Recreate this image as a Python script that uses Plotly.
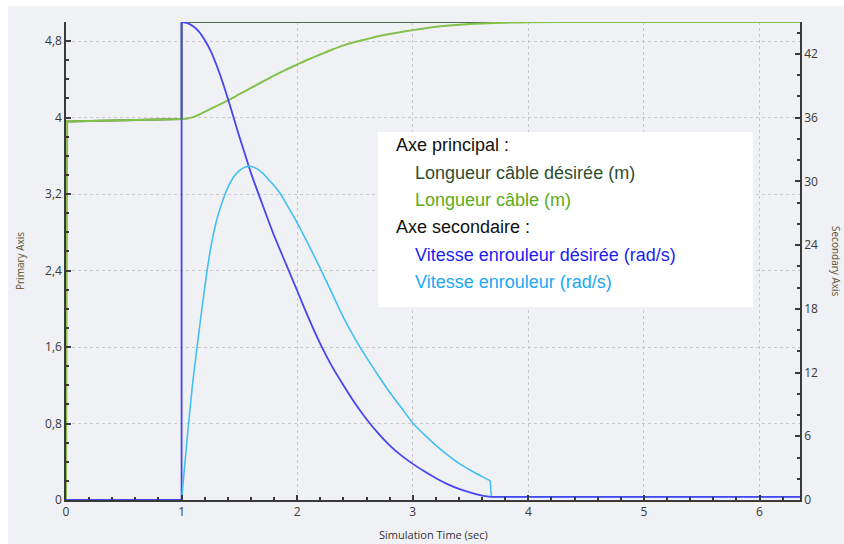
import plotly.graph_objects as go

# ---------------- data ----------------
# Primary axis: cable length (m)
t_len_des = [0.0, 0.01, 1.0, 1.0, 6.35]
len_des = [3.96, 3.96, 3.985, 5.0, 5.0]

t_len = [0.0, 0.01, 1.0, 1.05, 1.1, 1.15, 1.2, 1.3, 1.4, 1.5, 1.6, 1.7, 1.8, 1.9,
         2.0, 2.1, 2.2, 2.3, 2.4, 2.5, 2.6, 2.7, 2.8, 2.9, 3.0, 3.2, 3.4, 3.6,
         3.8, 4.0, 4.5, 6.35]
len_act = [0.0, 3.96, 3.985, 3.99, 4.005, 4.03, 4.06, 4.12, 4.18, 4.245, 4.31, 4.375,
           4.44, 4.50, 4.555, 4.61, 4.66, 4.71, 4.755, 4.79, 4.82, 4.85, 4.875, 4.895,
           4.915, 4.95, 4.972, 4.985, 4.993, 4.997, 5.0, 5.0]

# Secondary axis: reel speed (rad/s)
t_spd_des = [0.0, 1.0, 1.0, 1.05, 1.1, 1.15, 1.2, 1.25, 1.3, 1.35, 1.4, 1.45, 1.5,
             1.55, 1.6, 1.7, 1.8, 1.9, 2.0, 2.1, 2.2, 2.3, 2.4, 2.5, 2.6, 2.7, 2.8,
             2.9, 3.0, 3.1, 3.2, 3.3, 3.4, 3.5, 3.6, 3.67, 6.35]
spd_des = [0.0, 0.0, 45.0, 44.9, 44.6, 44.1, 43.3, 42.3, 41.0, 39.5, 37.8, 36.0, 34.2,
           32.5, 30.8, 27.8, 24.9, 22.3, 19.7, 17.1, 14.7, 12.6, 10.8, 9.1, 7.6, 6.3,
           5.15, 4.2, 3.4, 2.7, 2.05, 1.5, 1.05, 0.7, 0.42, 0.3, 0.3]

t_spd = [1.0, 1.025, 1.05, 1.075, 1.1, 1.15, 1.2, 1.25, 1.3, 1.35, 1.4, 1.45, 1.5,
         1.55, 1.6, 1.65, 1.7, 1.75, 1.8, 1.85, 1.9, 2.0, 2.1, 2.2, 2.3, 2.4, 2.5,
         2.6, 2.7, 2.8, 2.9, 3.0, 3.1, 3.2, 3.3, 3.4, 3.5, 3.6, 3.67, 3.68, 6.35]
spd_act = [0.0, 3.0, 6.0, 8.8, 11.4, 15.8, 20.0, 23.6, 26.2, 28.0, 29.4, 30.4, 31.0,
           31.35, 31.4, 31.2, 30.8, 30.2, 29.6, 28.9, 28.0, 26.1, 24.0, 21.8, 19.5,
           17.2, 15.2, 13.4, 11.75, 10.15, 8.7, 7.25, 6.15, 5.15, 4.25, 3.45, 2.8,
           2.2, 1.8, 0.3, 0.3]

x_tick_vals = [0, 1, 2, 3, 4, 5, 6]
y1_tick_vals = [0, 0.8, 1.6, 2.4, 3.2, 4, 4.8]
y2_tick_vals = [0, 6, 12, 18, 24, 30, 36, 42]

legend_headers = ["Axe principal :", "Axe secondaire :"]
legend_items = ["Longueur câble désirée (m)", "Longueur câble (m)",
                "Vitesse enrouleur désirée (rad/s)", "Vitesse enrouleur (rad/s)"]

# ---------------- styling ----------------
C_LEN_DES = "#4f6e4b"
C_LEN = "#82c24a"
C_SPD_DES = "#4646f0"
C_SPD = "#42c0f2"
TXT_LEN_DES = "#2f4d2f"
TXT_LEN = "#5aac20"
TXT_SPD_DES = "#1c1cf5"
TXT_SPD = "#20a8f5"
BG = "#f0f1f4"
AX = "#3a3a3a"

W, H = 844, 544
L, R, T, B = 66, 800, 22, 500


def px(x):
    return (x - L) / (R - L)


def py(y):
    return (B - y) / (B - T)


def seg(xs, ys, i0, i1, color, width, yaxis, shape):
    return go.Scatter(x=xs[i0:i1], y=ys[i0:i1], mode="lines", yaxis=yaxis,
                      line=dict(color=color, width=width, shape=shape,
                                smoothing=0.6 if shape == "spline" else None))


fig = go.Figure()
# desired length (step)
fig.add_trace(seg(t_len_des, len_des, 0, None, C_LEN_DES, 2, "y", "linear"))
# actual length
fig.add_trace(seg(t_len, len_act, 0, 3, C_LEN, 2, "y", "linear"))
fig.add_trace(seg(t_len, len_act, 2, None, C_LEN, 2, "y", "spline"))
# desired speed
fig.add_trace(seg(t_spd_des, spd_des, 0, 3, C_SPD_DES, 1.8, "y2", "linear"))
fig.add_trace(seg(t_spd_des, spd_des, 2, 36, C_SPD_DES, 1.8, "y2", "spline"))
# actual speed
fig.add_trace(seg(t_spd, spd_act, 0, 39, C_SPD, 1.6, "y2", "spline"))
fig.add_trace(seg(t_spd, spd_act, 38, None, C_SPD, 1.6, "y2", "linear"))
# desired speed flat tail drawn on top (as in reference)
fig.add_trace(seg(t_spd_des, spd_des, 35, None, C_SPD_DES, 1.8, "y2", "linear"))

tickfont = dict(family="Open Sans", size=12, color="#383838")

fig.update_layout(
    width=W, height=H,
    margin=dict(l=L, r=W - R, t=T, b=H - B, pad=0),
    paper_bgcolor="white",
    plot_bgcolor=BG,
    showlegend=False,
    separators=", ",
    xaxis=dict(range=[0, 6.35], tickvals=x_tick_vals, ticks="inside", ticklen=5,
               tickcolor=AX, tickwidth=1.5, showline=True, linecolor=AX, linewidth=1.5,
               showgrid=True, gridcolor="#c9c9cc", griddash="dot", gridwidth=1,
               zeroline=False, tickfont=tickfont,
               minor=dict(dtick=0.2, ticks="inside", ticklen=3, tickcolor=AX, showgrid=False)),
    yaxis=dict(range=[0, 5], tickvals=y1_tick_vals, ticks="inside", ticklen=5,
               tickcolor=AX, tickwidth=1.5, showline=True, linecolor=AX, linewidth=1.5,
               showgrid=True, gridcolor="#c9c9cc", griddash="dot", gridwidth=1,
               zeroline=False, tickfont=tickfont, tickformat=".1~f",
               minor=dict(dtick=0.2, ticks="inside", ticklen=3, tickcolor=AX, showgrid=False)),
    yaxis2=dict(range=[0, 45], tickvals=y2_tick_vals, overlaying="y", side="right",
                ticks="inside", ticklen=5, tickcolor=AX, tickwidth=1.5,
                showline=True, linecolor=AX, linewidth=1.5, showgrid=False,
                zeroline=False, tickfont=tickfont,
                minor=dict(dtick=2, ticks="inside", ticklen=3, tickcolor=AX)),
)

# grey panel (white margin at top-left like the reference)
fig.add_shape(type="rect", xref="paper", yref="paper", layer="below",
              x0=px(8), x1=px(W + 5), y0=py(H + 5), y1=py(6),
              fillcolor=BG, line=dict(width=0))

# legend box
fig.add_shape(type="rect", xref="paper", yref="paper",
              x0=px(378), x1=px(753), y0=py(307), y1=py(132),
              fillcolor="white", line=dict(width=0))

lfont = "Liberation Sans, Arial, sans-serif"
entries = [
    (legend_headers[0], 394, 145, "#111111"),
    (legend_items[0], 413, 173, TXT_LEN_DES),
    (legend_items[1], 413, 200, TXT_LEN),
    (legend_headers[1], 394, 227, "#111111"),
    (legend_items[2], 413, 255, TXT_SPD_DES),
    (legend_items[3], 413, 282, TXT_SPD),
]
for txt, x, y, col in entries:
    fig.add_annotation(text=txt, xref="paper", yref="paper", x=px(x), y=py(y),
                       xanchor="left", yanchor="middle", showarrow=False,
                       font=dict(family=lfont, size=18, color=col))

# axis titles
fig.add_annotation(text="Primary Axis", xref="paper", yref="paper",
                   x=px(20), y=py(261), textangle=-90, showarrow=False,
                   xanchor="center", yanchor="middle",
                   font=dict(family="Open Sans", size=10, color="#5e4c2c"))
fig.add_annotation(text="Secondary Axis", xref="paper", yref="paper",
                   x=px(836), y=py(261), textangle=90, showarrow=False,
                   xanchor="center", yanchor="middle",
                   font=dict(family="Open Sans", size=10, color="#5e4c2c"))
fig.add_annotation(text="Simulation Time (sec)", xref="paper", yref="paper",
                   x=px(433), y=py(534), showarrow=False,
                   xanchor="center", yanchor="middle",
                   font=dict(family="Open Sans", size=11, color="#333333"))

fig.write_html("out.html", config={"displayModeBar": False},
               post_script="document.body.style.margin='0';document.body.style.overflow='hidden';")
